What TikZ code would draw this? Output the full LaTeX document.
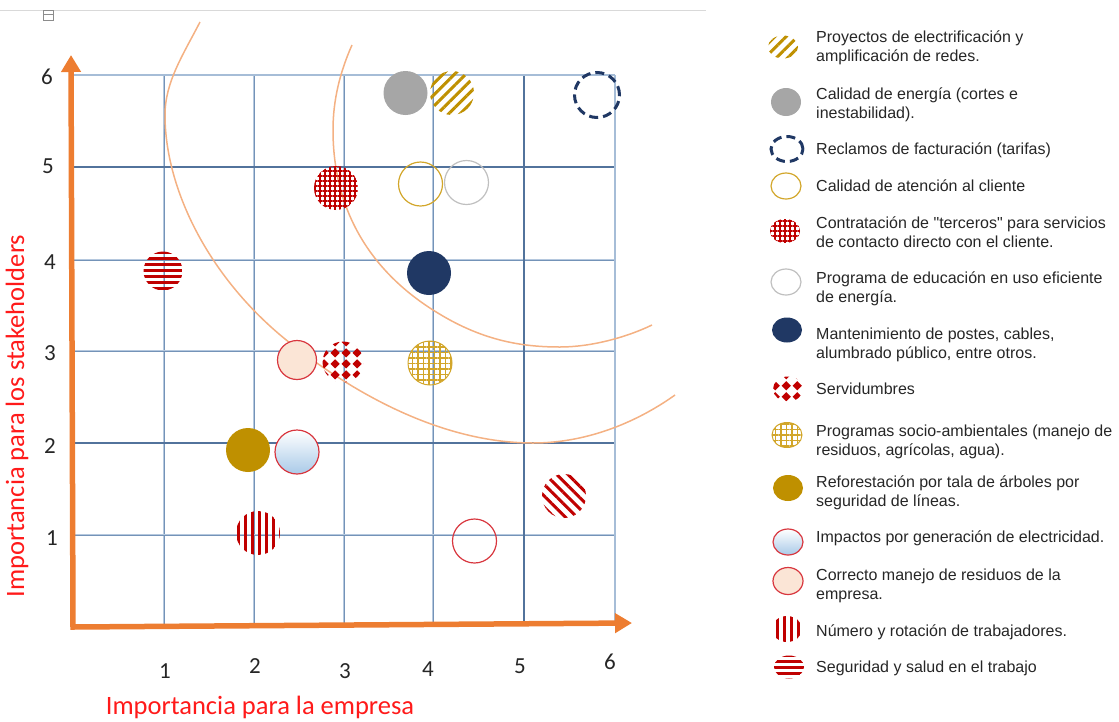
\documentclass[tikz,border=0pt]{standalone}
\usepackage{fontspec}
\setmainfont{Liberation Sans}[Ligatures=TeXOff]
\newfontfamily\calibfont{Carlito}
\usepackage{xcolor}
\usepackage{tikz}
\usetikzlibrary{shapes,positioning,patterns,patterns.meta,arrows.meta}

\definecolor{axisorange}{HTML}{ED7D31}
\definecolor{arcorange}{HTML}{F4B183}
\definecolor{gridblue}{HTML}{7493B8}
\definecolor{gridhalo}{HTML}{B5C8DE}
\definecolor{griddark}{HTML}{52739C}
\definecolor{gridpale}{HTML}{A6BDD7}
\definecolor{gold}{HTML}{BF9000}
\definecolor{goldline}{HTML}{D2A62A}
\definecolor{darkred}{HTML}{C00000}
\definecolor{navy}{HTML}{203864}
\definecolor{softgray}{HTML}{A6A6A6}
\definecolor{peach}{HTML}{FBE5D6}
\definecolor{rimred}{HTML}{D8363E}
\definecolor{paleblue}{HTML}{A9CAE8}
\definecolor{txtgray}{HTML}{262626}
\definecolor{titlered}{HTML}{FF1A1A}

\pgfdeclarepatternformonly{rhombs}{\pgfpointorigin}{\pgfpoint{11pt}{11pt}}{\pgfpoint{11pt}{11pt}}{%
  \pgfpathmoveto{\pgfpoint{5.5pt}{0.6pt}}%
  \pgfpathlineto{\pgfpoint{10.4pt}{5.5pt}}%
  \pgfpathlineto{\pgfpoint{5.5pt}{10.4pt}}%
  \pgfpathlineto{\pgfpoint{0.6pt}{5.5pt}}%
  \pgfpathclose\pgfusepath{fill}}

\tikzset{bub/.style={circle,minimum size=44pt,inner sep=0pt},
  leg/.style={ellipse,minimum width=30pt,minimum height=26pt,inner sep=0pt},
  electr/.style={pattern={Lines[angle=45,distance=8pt,line width=3pt]},pattern color=gold},
  energia/.style={fill=softgray},
  reclamo/.style={draw=navy,line width=3pt,dash pattern=on 9pt off 5pt},
  atencion/.style={draw=goldline,line width=1.2pt},
  terceros/.style={pattern={Hatch[angle=0,distance=5pt,line width=1.3pt]},pattern color=darkred},
  educ/.style={draw=black!25,line width=1.2pt},
  mant/.style={fill=navy},
  servid/.style={pattern=rhombs,pattern color=darkred},
  socioamb/.style={pattern={Hatch[angle=0,distance=5.5pt,line width=1.2pt]},pattern color=goldline,draw=goldline,line width=1pt},
  refor/.style={fill=gold},
  impacto/.style={top color=white,bottom color=paleblue,draw=rimred,line width=1.2pt},
  residuo/.style={fill=peach,draw=rimred,line width=1.2pt},
  trabaj/.style={pattern={Lines[angle=90,distance=7pt,line width=3pt]},pattern color=darkred},
  segur/.style={pattern={Lines[angle=0,distance=6pt,line width=3pt]},pattern color=darkred},
  gridline/.style={draw=gridblue,line width=0.9pt,preaction={draw=gridhalo,line width=2.6pt}},
  gridbold/.style={draw=griddark,line width=1.1pt,preaction={draw=gridhalo,line width=2.8pt}},
  gridedge/.style={draw=gridpale,line width=2.6pt},
  arcline/.style={draw=arcorange,line width=1.5pt},
  axisline/.style={draw=axisorange,line width=5.5pt,line join=miter},
  tick/.style={text=txtgray,font=\calibfont\fontsize{23}{27}\selectfont,inner sep=0pt},
  axtitle/.style={text=titlered,font=\calibfont\fontsize{26.5}{30}\selectfont,inner sep=0pt},
  legtxt/.style={anchor=west,align=left,text=txtgray,font=\fontsize{16}{19}\selectfont,inner sep=0pt}}

\begin{document}
\begin{tikzpicture}[x=1pt,y=-1pt,>={Triangle[width=19pt,length=17pt]}]
    \useasboundingbox (0,0) rectangle (1119,721);

    % top edge of the page
    \draw[black!15,line width=1pt] (0,10) -- (706,10);
    \draw[black!45,line width=0.8pt] (43,10) rectangle (53,20);
    \draw[black!45,line width=0.8pt] (43,14) -- (53,14);

    % grid
    \foreach \gx in {164,254,344,433} \draw[gridline] (\gx,75) -- (\gx,625);
    \foreach \gy in {260,351,535} \draw[gridline] (73,\gy) -- (615,\gy);
    \draw[gridbold] (524,75) -- (524,625);
    \draw[gridbold] (73,167) -- (615,167);
    \draw[gridbold] (73,443) -- (615,443);
    \draw[gridedge] (615,75) -- (615,625);
    \draw[gridedge] (73,75) -- (615,75);

    % curves
    \draw[arcline] (200,22) .. controls (183,55) and (165,82) .. (165,115)
        .. controls (165,190) and (210,280) .. (290,343)
        .. controls (365,402) and (450,443) .. (533,443)
        .. controls (590,443) and (640,420) .. (675,395);
    \draw[arcline] (352,45) .. controls (340,72) and (333,100) .. (333,130)
        .. controls (333,210) and (370,270) .. (433,310)
        .. controls (480,340) and (520,347) .. (560,347)
        .. controls (590,347) and (625,338) .. (652,325);

    % axes
    \coordinate (ytip) at (71,55);
    \coordinate (o) at (73,627);
    \coordinate (xtip) at (632,623);
    \draw[axisline,<->] (ytip) -- (o) -- (xtip);

    \node[tick] (y6) at (47,77) {6};
    \node[tick] (y5) at (48,166) {5};
    \node[tick] (y4) at (50,262) {4};
    \node[tick] (y3) at (50,353) {3};
    \node[tick] (y2) at (50,446) {2};
    \node[tick] (y1) at (52,538) {1};
    \node[tick] (x1) at (165,671) {1};
    \node[tick] (x2) at (255,666) {2};
    \node[tick] (x3) at (345,671) {3};
    \node[tick] (x4) at (428,669) {4};
    \node[tick] (x5) at (520,666) {5};
    \node[tick] (x6) at (610,662) {6};
    \node[axtitle,rotate=90] (ytitle) at (17,416) {Importancia para los stakeholders};
    \node[axtitle] (xtitle) at (260,707) {Importancia para la empresa};

    % bubbles
    \node[bub,energia] (p2) at (405.5,93) {};
    \node[bub,electr] (p1) at (452,93) {};
    \node[bub,reclamo,minimum size=45pt] (p3) at (597,95) {};
    \node[bub,atencion] (p4) at (420.5,184) {};
    \node[bub,educ] (p6) at (466.5,182.5) {};
    \node[bub,terceros] (p5) at (336,188) {};
    \node[bub,segur,minimum size=39pt] (p14) at (163,271) {};
    \node[bub,mant] (p7) at (429,273) {};
    \node[bub,residuo,minimum size=39pt] (p12) at (297,360) {};
    \node[bub,servid,minimum size=41pt] (p8) at (343,362) {};
    \node[bub,socioamb] (p9) at (430,363) {};
    \node[bub,refor] (p10) at (248,450) {};
    \node[bub,impacto] (p11) at (297,452) {};
    \node[bub,trabaj] (p13) at (258,533) {};
    \node[bub,draw=rimred,line width=1.2pt] (p15) at (474.5,541) {};
    \node[bub,pattern={Lines[angle=-45,distance=8pt,line width=3pt]},pattern color=darkred] (p16) at (564,496) {};

    % legend
    \node[leg,electr,minimum height=23pt] (l1) at (783,47) {};
    \node[leg,energia,minimum height=28pt] (l2) at (786,102) {};
    \node[leg,reclamo,minimum width=32pt,minimum height=25pt] (l3) at (787,149) {};
    \node[leg,atencion] (l4) at (786,186) {};
    \node[leg,terceros,minimum height=24pt] (l5) at (785,231) {};
    \node[leg,educ] (l6) at (786,282) {};
    \node[leg,mant,minimum height=25pt] (l7) at (787,330) {};
    \node[leg,servid,minimum height=25pt] (l8) at (788,389) {};
    \node[leg,socioamb,minimum height=25pt] (l9) at (787,435) {};
    \node[leg,refor] (l10) at (788,488) {};
    \node[leg,impacto] (l11) at (788,542) {};
    \node[leg,residuo,minimum height=27pt] (l12) at (788,581) {};
    \node[leg,trabaj] (l13) at (787,629) {};
    \node[leg,segur,minimum height=23pt] (l14) at (789,667) {};

    \node[legtxt] (t1) at (816,47.5) {Proyectos de electrificación y\\amplificación de redes.};
    \node[legtxt] (t2) at (816,104.5) {Calidad de energía (cortes e\\inestabilidad).};
    \node[legtxt] (t3) at (816,150) {Reclamos de facturación (tarifas)};
    \node[legtxt] (t4) at (816,186) {Calidad de atención al cliente};
    \node[legtxt] (t5) at (816,232) {Contratación de "terceros" para servicios\\de contacto directo con el cliente.};
    \node[legtxt] (t6) at (816,288.5) {Programa de educación en uso eficiente\\de energía.};
    \node[legtxt] (t7) at (816,345) {Mantenimiento de postes, cables,\\alumbrado público, entre otros.};
    \node[legtxt] (t8) at (816,389) {Servidumbres};
    \node[legtxt] (t9) at (816,441.5) {Programas socio-ambientales (manejo de\\residuos, agrícolas, agua).};
    \node[legtxt] (t10) at (816,492.5) {Reforestación por tala de árboles por\\seguridad de líneas.};
    \node[legtxt] (t11) at (816,538) {Impactos por generación de electricidad.};
    \node[legtxt] (t12) at (816,585.5) {Correcto manejo de residuos de la\\empresa.};
    \node[legtxt] (t13) at (816,632) {Número y rotación de trabajadores.};
    \node[legtxt] (t14) at (816,668) {Seguridad y salud en el trabajo};
\end{tikzpicture}
\end{document}
